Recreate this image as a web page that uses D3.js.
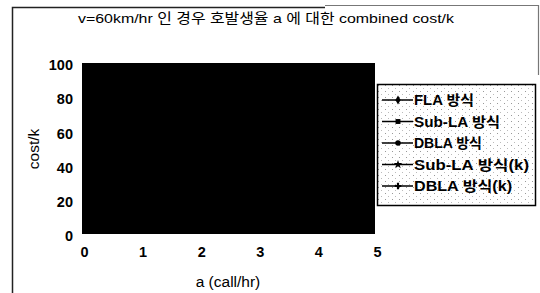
<!DOCTYPE html>
<html>
<head>
<meta charset="utf-8">
<script src="https://cdn.jsdelivr.net/npm/d3@7"></script>
<style>
  body { margin: 0; background: #fff; }
  svg { display: block; font-family: "Liberation Sans", Arial, "Noto Sans CJK KR", sans-serif; }
</style>
</head>
<body>
<svg id="chart" width="540" height="293"></svg>
<script>
// arrival rate a (call/hr)
const aValues = [0.2, 0.5, 1, 1.5, 2, 2.5, 3, 3.5, 4, 4.5, 5];
// cost/k per scheme (plot area is blacked out in the scan, values estimated)
const flaCost = [24, 30, 40, 48, 54, 58, 62, 66, 70, 74, 78];
const subLaCost = [12, 15, 20, 25, 29, 33, 37, 41, 45, 49, 53];
const dblaCost = [8, 10, 13, 16, 19, 22, 25, 28, 31, 34, 37];
const subLaKCost = [10, 13, 17, 21, 25, 28, 31, 34, 37, 40, 43];
const dblaKCost = [6, 8, 11, 13, 15, 18, 20, 22, 24, 26, 28];
const seriesNames = ['FLA 방식', 'Sub-LA 방식', 'DBLA 방식', 'Sub-LA 방식(k)', 'DBLA 방식(k)'];
const seriesValues = [flaCost, subLaCost, dblaCost, subLaKCost, dblaKCost];
const xTicks = [0, 1, 2, 3, 4, 5];
const yTicks = [0, 20, 40, 60, 80, 100];

const svg = d3.select('#chart');

// scanned page frame
svg.append('path').attr('d', 'M12.5,293 V7.5 H325').attr('fill', 'none').attr('stroke', '#222').attr('stroke-width', 1.5);
svg.append('path').attr('d', 'M325,5.5 H538.5 V75').attr('fill', 'none').attr('stroke', '#777').attr('stroke-width', 1.2);

const x = d3.scaleLinear().domain([0, 5]).range([82, 375]);
const y = d3.scaleLinear().domain([0, 100]).range([234, 63]);

// plot area (fully black in the scan)
svg.append('defs').append('clipPath').attr('id', 'plotClip')
  .append('rect').attr('x', x(0)).attr('y', y(100))
  .attr('width', x(5) - x(0)).attr('height', y(0) - y(100));
svg.append('rect')
  .attr('x', x(0)).attr('y', y(100))
  .attr('width', x(5) - x(0)).attr('height', y(0) - y(100))
  .attr('fill', '#000');

const line = d3.line().x((d, i) => x(aValues[i])).y(d => y(d));
const markers = [d3.symbolDiamond, d3.symbolSquare, d3.symbolCircle, d3.symbolStar, d3.symbolCross];

const plot = svg.append('g').attr('clip-path', 'url(#plotClip)');
seriesValues.forEach((vals, s) => {
  plot.append('path').attr('d', line(vals)).attr('fill', 'none').attr('stroke', '#000').attr('stroke-width', 1.5);
  plot.append('g').selectAll('path').data(vals).join('path')
    .attr('transform', (d, i) => `translate(${x(aValues[i])},${y(d)})`)
    .attr('d', d3.symbol(markers[s], 20)).attr('fill', '#000');
});

// axes (labels only, the axis lines vanish in the black area)
const xAxis = svg.append('g').attr('transform', `translate(2,${y(0)})`)
  .call(d3.axisBottom(x).tickValues(xTicks).tickSize(0).tickPadding(13).tickFormat(d3.format('d')));
const yAxis = svg.append('g').attr('transform', `translate(${x(0)},2)`)
  .call(d3.axisLeft(y).tickValues(yTicks).tickSize(0).tickPadding(9).tickFormat(d3.format('d')));
[xAxis, yAxis].forEach(g => {
  g.select('.domain').remove();
  g.selectAll('text').attr('font-size', 14.5).attr('font-weight', 'bold')
    .attr('font-family', '"Liberation Sans", Arial, sans-serif').attr('fill', '#000');
});

// title and axis titles
svg.append('text').attr('x', 266).attr('y', 23).attr('text-anchor', 'middle')
  .attr('font-size', 13.5).attr('textLength', 376).attr('lengthAdjust', 'spacingAndGlyphs')
  .text('v=60km/hr 인 경우 호발생율 a 에 대한 combined cost/k');
svg.append('text').attr('transform', 'translate(39,149) rotate(-90)').attr('text-anchor', 'middle')
  .attr('font-size', 15.5).text('cost/k');
svg.append('text').attr('x', 228).attr('y', 287).attr('text-anchor', 'middle')
  .attr('font-size', 15.5).text('a (call/hr)');

// legend with halftone background
const defs = svg.select('defs');
const pat = defs.append('pattern').attr('id', 'dots').attr('patternUnits', 'userSpaceOnUse')
  .attr('width', 7).attr('height', 6);
pat.append('rect').attr('width', 7).attr('height', 6).attr('fill', '#fff');
pat.append('rect').attr('x', 1).attr('y', 1).attr('width', 1).attr('height', 1).attr('fill', '#999');
pat.append('rect').attr('x', 4).attr('y', 4).attr('width', 1).attr('height', 1).attr('fill', '#bbb');

const legend = svg.append('g').attr('transform', 'translate(377,84)');
legend.append('rect').attr('x', 0.5).attr('y', 0.5).attr('width', 158).attr('height', 121)
  .attr('fill', 'url(#dots)').attr('stroke', '#000').attr('stroke-width', 1.5);
const rows = legend.selectAll('g.row').data(seriesNames).join('g')
  .attr('transform', (d, i) => `translate(0,${16 + i * 21.5})`);
rows.append('line').attr('x1', 5).attr('x2', 36).attr('stroke', '#000').attr('stroke-width', 1.5);
rows.append('path').attr('transform', 'translate(21,0)')
  .attr('d', (d, i) => d3.symbol(markers[i], 24)()).attr('fill', '#000');
rows.append('text').attr('x', 37).attr('dy', '0.36em').attr('font-size', 14).attr('font-weight', 'bold')
  .attr('textLength', (d, i) => [60, 86, 68, 115, 98][i]).attr('lengthAdjust', 'spacingAndGlyphs')
  .text(d => d);
</script>
</body>
</html>
